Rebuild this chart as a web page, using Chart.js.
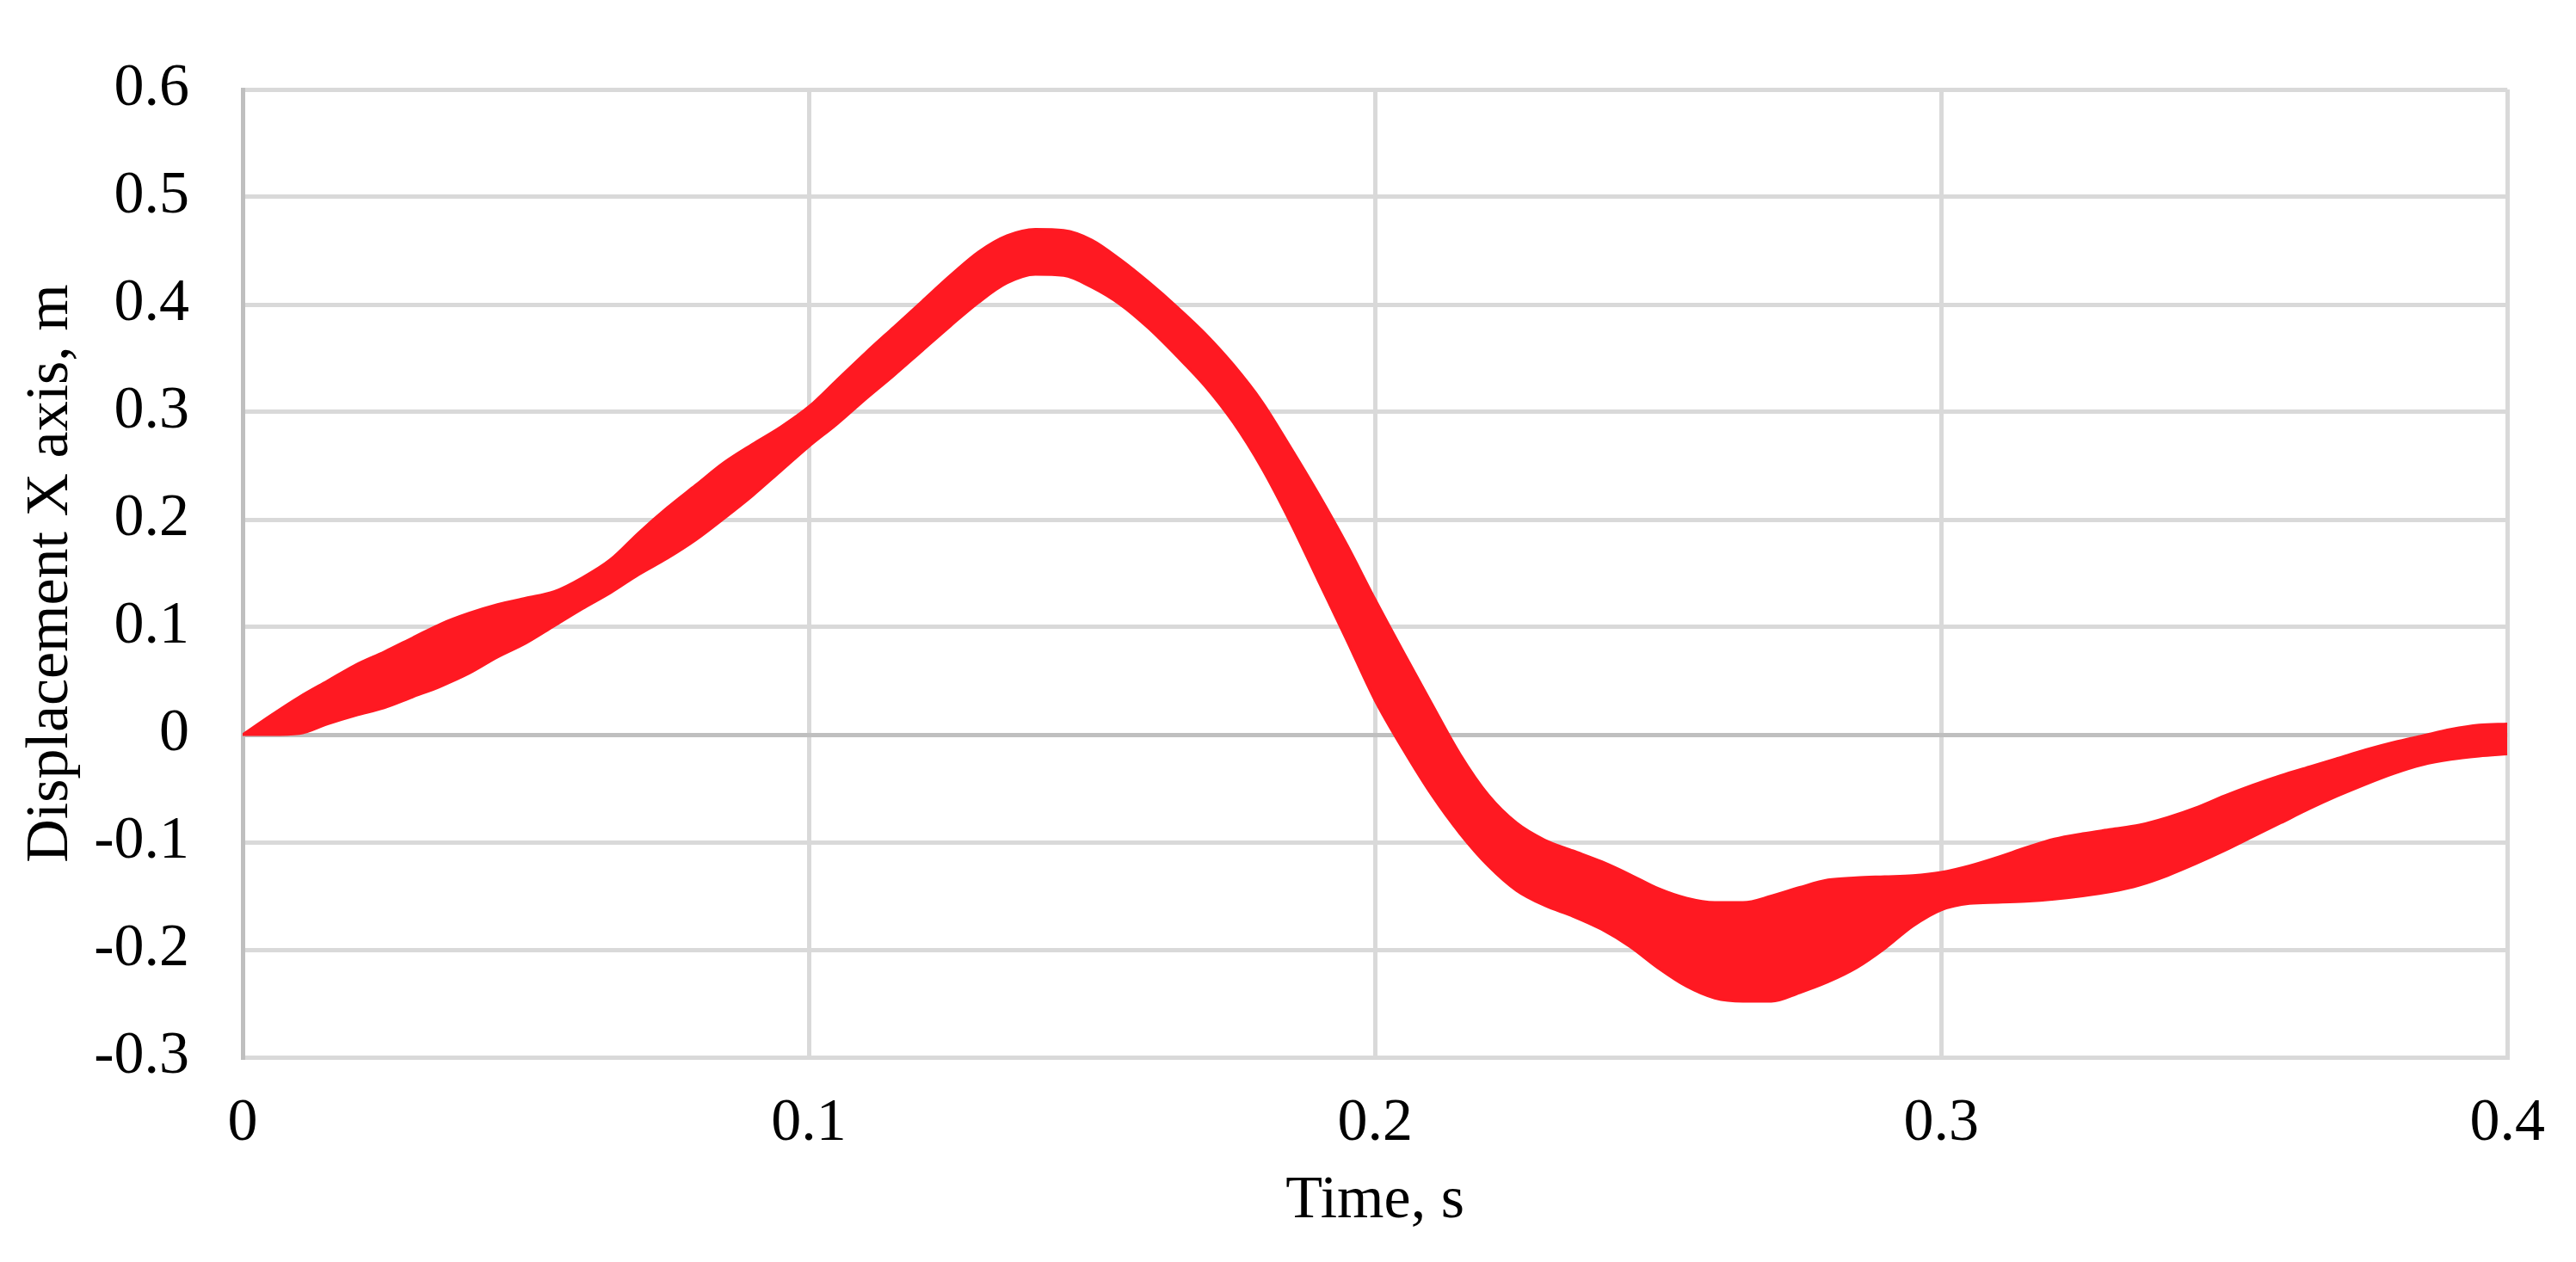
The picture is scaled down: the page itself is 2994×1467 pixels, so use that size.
<!DOCTYPE html>
<html>
<head>
<meta charset="utf-8">
<script src="https://cdn.jsdelivr.net/npm/chart.js@4.4.1/dist/chart.umd.min.js"></script>
<style>
  html, body { margin: 0; padding: 0; background: #ffffff; }
  #wrap { width: 2994px; height: 1467px; position: relative; }
</style>
</head>
<body>
<div id="wrap"><canvas id="c"></canvas></div>
<script>
// Time samples, s
const times = [
  0.000, 0.005, 0.010, 0.015, 0.020, 0.025, 0.030, 0.035, 0.040, 0.045,
  0.050, 0.055, 0.060, 0.065, 0.070, 0.075, 0.080, 0.085, 0.090, 0.095,
  0.100, 0.105, 0.110, 0.115, 0.120, 0.125, 0.130, 0.135, 0.140, 0.145,
  0.150, 0.155, 0.160, 0.165, 0.170, 0.175, 0.180, 0.185, 0.190, 0.195,
  0.200, 0.205, 0.210, 0.215, 0.220, 0.225, 0.230, 0.235, 0.240, 0.245,
  0.250, 0.255, 0.260, 0.265, 0.270, 0.275, 0.280, 0.285, 0.290, 0.295,
  0.300, 0.305, 0.310, 0.315, 0.320, 0.325, 0.330, 0.335, 0.340, 0.345,
  0.350, 0.355, 0.360, 0.365, 0.370, 0.375, 0.380, 0.385, 0.390, 0.395,
  0.400
];
// Upper envelope of the oscillating displacement band, m
const upperDisp = [
  0.000, 0.018, 0.035, 0.050, 0.065, 0.077, 0.090, 0.103, 0.113, 0.121,
  0.127, 0.133, 0.146, 0.163, 0.188, 0.211, 0.232, 0.253, 0.270, 0.286,
  0.305, 0.330, 0.355, 0.379, 0.403, 0.427, 0.449, 0.464, 0.470, 0.469,
  0.460, 0.442, 0.421, 0.398, 0.373, 0.344, 0.310, 0.268, 0.224, 0.177,
  0.126, 0.077, 0.029, -0.018, -0.056, -0.082, -0.098, -0.108, -0.118, -0.130,
  -0.143, -0.152, -0.156, -0.156, -0.150, -0.142, -0.135, -0.133, -0.132, -0.131,
  -0.128, -0.122, -0.114, -0.105, -0.097, -0.092, -0.088, -0.084, -0.077, -0.068,
  -0.057, -0.047, -0.038, -0.030, -0.022, -0.014, -0.007, -0.001, 0.005, 0.009,
  0.010
];
// Lower envelope of the oscillating displacement band, m
const lowerDisp = [
  0.000, 0.000, 0.001, 0.010, 0.018, 0.025, 0.035, 0.045, 0.057, 0.072,
  0.085, 0.101, 0.117, 0.132, 0.149, 0.164, 0.181, 0.201, 0.222, 0.245,
  0.268, 0.289, 0.312, 0.334, 0.357, 0.380, 0.402, 0.420, 0.428, 0.427,
  0.416, 0.400, 0.378, 0.352, 0.324, 0.290, 0.248, 0.198, 0.143, 0.088,
  0.032, -0.014, -0.056, -0.092, -0.122, -0.145, -0.159, -0.169, -0.181, -0.197,
  -0.217, -0.234, -0.245, -0.248, -0.248, -0.240, -0.230, -0.217, -0.199, -0.178,
  -0.163, -0.157, -0.156, -0.155, -0.153, -0.150, -0.146, -0.140, -0.131, -0.120,
  -0.108, -0.095, -0.082, -0.069, -0.057, -0.046, -0.036, -0.028, -0.023, -0.020,
  -0.018
];
const xTickValues = [0, 0.1, 0.2, 0.3, 0.4];
const xTickLabels = ['0', '0.1', '0.2', '0.3', '0.4'];
const yTickValues = [-0.3, -0.2, -0.1, 0, 0.1, 0.2, 0.3, 0.4, 0.5, 0.6];
const yTickLabels = ['-0.3', '-0.2', '-0.1', '0', '0.1', '0.2', '0.3', '0.4', '0.5', '0.6'];
const xTitle = 'Time, s';
const yTitle = 'Displacement X axis, m';

const RED = '#FF1922';
const GRID = '#d9d9d9';
const AXIS = '#bfbfbf';
const FONT = { family: '"Liberation Serif", "Times New Roman", serif', size: 70, lineHeight: 1.2 };

function labelFor(values, labels, v) {
  for (let i = 0; i < values.length; i++) {
    if (Math.abs(values[i] - v) < 1e-9) return labels[i];
  }
  return '';
}

const ctx = document.getElementById('c').getContext('2d');
new Chart(ctx, {
  type: 'line',
  data: {
    datasets: [
      {
        label: 'lower',
        data: times.map((t, i) => ({ x: t, y: lowerDisp[i] })),
        borderColor: RED,
        borderWidth: 3,
        pointRadius: 0,
        fill: false,
        cubicInterpolationMode: 'monotone'
      },
      {
        label: 'upper',
        data: times.map((t, i) => ({ x: t, y: upperDisp[i] })),
        borderColor: RED,
        borderWidth: 3,
        pointRadius: 0,
        backgroundColor: RED,
        fill: '-1',
        cubicInterpolationMode: 'monotone'
      }
    ]
  },
  options: {
    responsive: true,
    maintainAspectRatio: false,
    animation: false,
    devicePixelRatio: 1,
    layout: { padding: { top: 56, right: 57, left: 0, bottom: 0 } },
    plugins: {
      legend: { display: false },
      tooltip: { enabled: false },
      filler: { propagate: false }
    },
    scales: {
      x: {
        type: 'linear',
        min: 0,
        max: 0.4,
        afterFit: (s) => { s.height = 238; },
        afterBuildTicks: (s) => { s.ticks = xTickValues.map(v => ({ value: v })); },
        grid: { color: GRID, lineWidth: 5, drawTicks: false },
        border: { display: true, color: GRID, width: 5 },
        ticks: {
          padding: 36,
          color: '#000',
          font: FONT,
          maxRotation: 0,
          autoSkip: false,
          callback: (v) => labelFor(xTickValues, xTickLabels, v)
        },
        title: {
          display: true,
          text: xTitle,
          color: '#000',
          font: FONT,
          padding: { top: 0, bottom: 28 }
        }
      },
      y: {
        type: 'linear',
        min: -0.3,
        max: 0.6,
        afterFit: (s) => { s.width = 282; },
        afterBuildTicks: (s) => { s.ticks = yTickValues.map(v => ({ value: v })); },
        grid: {
          color: (c) => (c.tick && Math.abs(c.tick.value) < 1e-9 ? AXIS : GRID),
          lineWidth: 5,
          drawTicks: false
        },
        border: { display: true, color: AXIS, width: 5 },
        ticks: {
          padding: 62,
          color: '#000',
          font: FONT,
          autoSkip: false,
          callback: (v) => labelFor(yTickValues, yTickLabels, v)
        },
        title: {
          display: true,
          text: yTitle,
          color: '#000',
          font: FONT,
          padding: { top: 18, bottom: 0 }
        }
      }
    }
  }
});
</script>
</body>
</html>
